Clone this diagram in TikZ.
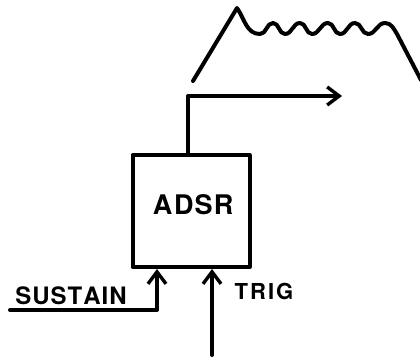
\documentclass[tikz,border=0pt]{standalone}
\usepackage{fontspec}
\setmainfont{TeX Gyre Heros}
\usetikzlibrary{arrows.meta}
\tikzset{
  ink/.style={line width=4pt, line cap=round, line join=round, black},
  wire/.style={ink, -{Straight Barb[length=12pt,width=18pt,line width=3.4pt]}},
  block/.style={ink, draw, minimum width=117pt, minimum height=112pt, inner sep=0pt},
  lbl/.style={font=\bfseries\fontsize{27}{27}\selectfont, inner sep=0pt}
}
\begin{document}
\begin{tikzpicture}[x=1pt,y=-1pt]
  \useasboundingbox (0,0) rectangle (420,356);
  \begin{scope}
    \clip (0,0) rectangle (420,356);
    % envelope sketch: attack, decay, wobbly sustain, release
    \draw[ink] (193,81) -- (237,8) to[out=-55,in=180] (260,34)
      to[out=0,in=180] (273,23) to[out=0,in=180] (285,34)
      to[out=0,in=180] (300,23) to[out=0,in=180] (312,34)
      to[out=0,in=180] (328,23) to[out=0,in=180] (340,34)
      to[out=0,in=180] (355,23) to[out=0,in=180] (368,34)
      to[out=0,in=180] (385,23) to[out=0,in=122] (397,34)
      -- (421,80);
  \end{scope}

  \node[block] (adsr) at (191,211) {};
  \node[lbl] (name) at (193,205) {A\kern2pt D\kern1pt S\kern1pt R};

  \coordinate (outcorner) at (188,96);
  \coordinate (outend) at (342,96);
  \draw[wire] (adsr.north -| outcorner) -- (outcorner) -- (outend);

  \coordinate (susstart) at (10,310);
  \coordinate (suscorner) at (157,310);
  \draw[wire] (susstart) -- (suscorner) -- (adsr.south -| suscorner);
  \node[lbl, font=\bfseries\fontsize{24}{24}\selectfont] (suslbl) at (71,296) {S\kern1pt U\kern1pt S\kern1pt T\kern1pt A\kern1pt I\kern1pt N};

  \coordinate (trigstart) at (212,355);
  \draw[wire] (trigstart) -- (adsr.south -| trigstart);
  \node[lbl, font=\bfseries\fontsize{22}{22}\selectfont] (triglbl) at (264,291) {T\kern2pt R\kern2pt I\kern2pt G};
\end{tikzpicture}
\end{document}
